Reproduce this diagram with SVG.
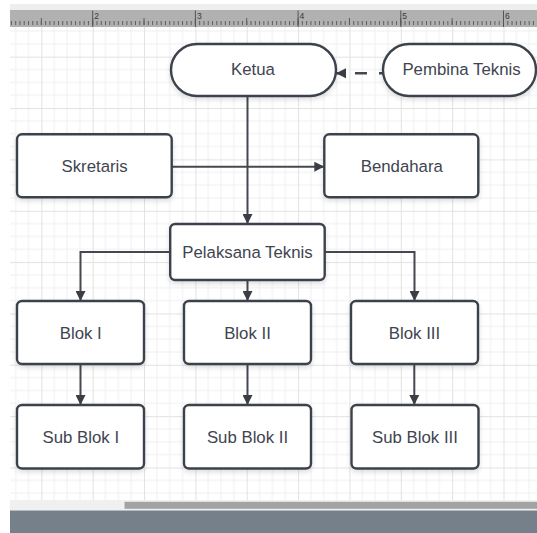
<svg xmlns="http://www.w3.org/2000/svg" width="537" height="533" viewBox="0 0 537 533">
  <style>
    .box { fill: #ffffff; stroke: #3b424b; stroke-width: 2.4; filter: url(#shadow); }
    .lbl { font-family: "Liberation Sans", Arial, sans-serif; font-size: 16.8px; fill: #3e4550; text-anchor: middle; }
    .con { fill: none; stroke: #45494f; stroke-width: 2; }
    .dash { stroke-dasharray: 12 12; stroke-width: 2.4; }
    .rnum { font-family: "Liberation Sans", Arial, sans-serif; font-size: 8.5px; fill: #3a3a3a; }
  </style>
  <defs>
    <filter id="shadow" x="-20%" y="-20%" width="140%" height="150%">
      <feDropShadow dx="0" dy="2.5" stdDeviation="2.5" flood-color="#000000" flood-opacity="0.13"/>
    </filter>
    <marker id="arrow" viewBox="0 0 10 10" refX="10" refY="5" markerWidth="10" markerHeight="10" markerUnits="userSpaceOnUse" orient="auto">
      <path d="M0,0 L10,5 L0,10 z" fill="#3b3f45"/>
    </marker>
    <pattern id="grid" patternUnits="userSpaceOnUse" x="41.35" y="56.7" width="51.35" height="51.35">
      <path d="M12.84 0 V51.35 M25.68 0 V51.35 M38.51 0 V51.35 M0 12.84 H51.35 M0 25.68 H51.35 M0 38.51 H51.35" stroke="#f0f0f0" stroke-width="1" fill="none"/>
      <path d="M0.5 0 V51.35 M0 0.5 H51.35" stroke="#e2e2e2" stroke-width="1" fill="none"/>
    </pattern>
  </defs>

  <!-- background / chrome -->
  <rect x="0" y="0" width="537" height="533" fill="#ffffff"/>
  <rect x="10" y="4" width="527" height="6" fill="#eeeeee"/>
  <rect x="10" y="10" width="527" height="17" fill="#b1b1b1"/>
  <line x1="10.9" y1="23" x2="537" y2="23" stroke="#5e5e5e" stroke-width="4" stroke-dasharray="1 3.279"/>
  <line x1="40.85" y1="21.5" x2="537" y2="21.5" stroke="#5e5e5e" stroke-width="7" stroke-dasharray="1 50.35"/>
  <g stroke="#555555" stroke-width="1">
    <line x1="92.7" y1="10.5" x2="92.7" y2="27"/>
    <line x1="195.4" y1="10.5" x2="195.4" y2="27"/>
    <line x1="298.1" y1="10.5" x2="298.1" y2="27"/>
    <line x1="400.8" y1="10.5" x2="400.8" y2="27"/>
    <line x1="503.5" y1="10.5" x2="503.5" y2="27"/>
  </g>
  <text class="rnum" x="94.2" y="18.5">2</text>
  <text class="rnum" x="196.9" y="18.5">3</text>
  <text class="rnum" x="299.6" y="18.5">4</text>
  <text class="rnum" x="402.3" y="18.5">5</text>
  <text class="rnum" x="505" y="18.5">6</text>

  <rect x="10" y="27" width="527" height="473" fill="#ffffff"/>
  <rect x="10" y="27" width="527" height="473" fill="url(#grid)"/>
  <rect x="10" y="500" width="527" height="10.5" fill="#f0f0f0"/>
  <rect x="124.5" y="501.8" width="412.5" height="7" fill="#a3a3a3"/>
  <rect x="10" y="510.5" width="527" height="22.5" fill="#76808a"/>

  <!-- connectors -->
  <g id="connectors">
    <path class="con dash" d="M391 73.3 H336" marker-end="url(#arrow)"/>
    <path class="con" d="M171.7 166.7 H324.3" marker-end="url(#arrow)"/>
    <path class="con" d="M247.5 96 V224" marker-end="url(#arrow)"/>
    <path class="con" d="M170.2 252 H80.5 V301" marker-end="url(#arrow)"/>
    <path class="con" d="M247.5 280 V301" marker-end="url(#arrow)"/>
    <path class="con" d="M324.7 252 H414.5 V301" marker-end="url(#arrow)"/>
    <path class="con" d="M80.5 364 V405" marker-end="url(#arrow)"/>
    <path class="con" d="M247.5 364 V405" marker-end="url(#arrow)"/>
    <path class="con" d="M414.3 364 V405" marker-end="url(#arrow)"/>
  </g>

  <!-- nodes -->
  <g id="ketua">
    <rect class="box" x="171" y="44" width="165" height="52" rx="26" ry="26"/>
    <text class="lbl" x="253" y="74.5">Ketua</text>
  </g>
  <g id="pembina-teknis">
    <rect class="box" x="383" y="44" width="153" height="52" rx="26" ry="26"/>
    <text class="lbl" x="461.5" y="74.5">Pembina Teknis</text>
  </g>
  <g id="skretaris">
    <rect class="box" x="17" y="134.3" width="154.7" height="63" rx="5" ry="5"/>
    <text class="lbl" x="94.6" y="171.8">Skretaris</text>
  </g>
  <g id="bendahara">
    <rect class="box" x="324.3" y="134.3" width="154" height="63" rx="5" ry="5"/>
    <text class="lbl" x="401.8" y="171.8">Bendahara</text>
  </g>
  <g id="pelaksana-teknis">
    <rect class="box" x="170.2" y="224" width="154.5" height="56" rx="5" ry="5"/>
    <text class="lbl" x="247.5" y="257.5">Pelaksana Teknis</text>
  </g>
  <g id="blok-1">
    <rect class="box" x="17" y="301" width="127" height="63" rx="5" ry="5"/>
    <text class="lbl" x="80.8" y="338.5">Blok I</text>
  </g>
  <g id="blok-2">
    <rect class="box" x="184" y="301" width="127" height="63" rx="5" ry="5"/>
    <text class="lbl" x="247.5" y="338.5">Blok II</text>
  </g>
  <g id="blok-3">
    <rect class="box" x="351" y="301" width="127" height="63" rx="5" ry="5"/>
    <text class="lbl" x="414.5" y="338.5">Blok III</text>
  </g>
  <g id="sub-blok-1">
    <rect class="box" x="17" y="405" width="127" height="63.5" rx="5" ry="5"/>
    <text class="lbl" x="80.8" y="442.5">Sub Blok I</text>
  </g>
  <g id="sub-blok-2">
    <rect class="box" x="184" y="405" width="127" height="63.5" rx="5" ry="5"/>
    <text class="lbl" x="247.5" y="442.5">Sub Blok II</text>
  </g>
  <g id="sub-blok-3">
    <rect class="box" x="351.5" y="405" width="127" height="63.5" rx="5" ry="5"/>
    <text class="lbl" x="415" y="442.5">Sub Blok III</text>
  </g>
</svg>
